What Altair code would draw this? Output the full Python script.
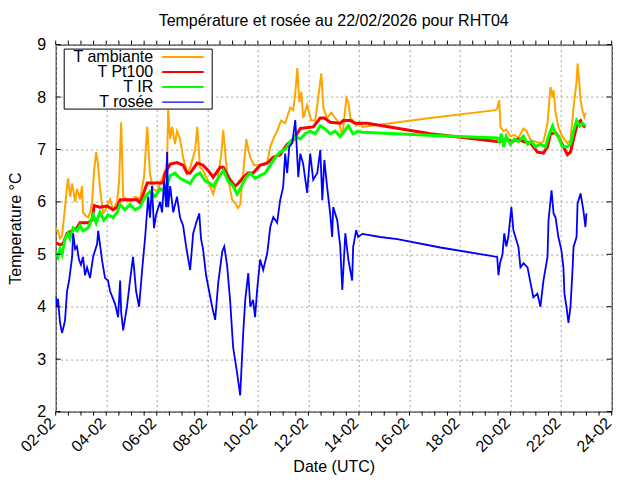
import altair as alt
import pandas as pd

FONT = "Liberation Sans"

# x axis: days since 02-02-2026 00:00 UTC
tick_days = [0, 2, 4, 6, 8, 10, 12, 14, 16, 18, 20, 22]
tick_labels = ["02-02", "04-02", "06-02", "08-02", "10-02", "12-02",
               "14-02", "16-02", "18-02", "20-02", "22-02", "24-02"]
minor_days = [i * 0.5 for i in range(45)]
y_ticks = [2, 3, 4, 5, 6, 7, 8, 9]

series_names = ["T ambiante", "T Pt100", "T IR", "T rosée"]
series_colors = ["#ffa500", "#ff0000", "#00ff00", "#0000ff"]

amb_t = [0.0, 0.09, 0.17, 0.25, 0.37, 0.45, 0.49, 0.57, 0.65, 0.77, 0.84, 0.96, 1.04, 1.08, 1.16, 1.28,
         1.36, 1.44, 1.52, 1.60, 1.68, 1.75, 1.87, 2.03, 2.15, 2.27, 2.43, 2.51, 2.59, 2.67, 2.82, 2.94,
         3.14, 3.34, 3.50, 3.62, 3.73, 3.85, 4.01, 4.13, 4.33, 4.41, 4.45, 4.53, 4.61, 4.72, 4.80, 4.92,
         5.04, 5.20, 5.32, 5.52, 5.60, 5.71, 5.83, 6.03, 6.23, 6.39, 6.55, 6.63, 6.78, 6.98, 7.14, 7.22,
         7.30, 7.42, 7.54, 7.62, 7.70, 7.85, 8.01, 8.21, 8.37, 8.49, 8.61, 8.76, 8.92, 9.08, 9.28, 9.40,
         9.48, 9.56, 9.64, 9.72, 9.79, 9.95, 10.11, 10.27, 10.39, 10.51, 10.59, 10.74, 10.90, 11.06, 11.22,
         11.34, 11.42, 11.50, 11.58, 11.66, 11.77, 11.89, 12.05, 12.13, 14.82, 17.40, 17.47, 17.55, 17.60,
         17.72, 17.83, 17.99, 18.15, 18.31, 18.51, 18.63, 18.79, 18.98, 19.18, 19.30, 19.46, 19.58, 19.66,
         19.70, 19.78, 19.89, 20.05, 20.25, 20.37, 20.49, 20.61, 20.65, 20.69, 20.77, 20.84, 20.92, 20.96]
amb_v = [5.5, 5.45, 5.3, 5.35, 5.9, 6.3, 6.45, 6.1, 6.35, 6.0, 6.25, 6.05, 6.3, 5.8, 5.75, 5.7,
         5.8, 6.0, 6.6, 6.95, 6.7, 6.28, 5.78, 5.9, 6.05, 5.85, 6.0, 6.4, 7.52, 6.1, 6.05, 6.0,
         6.1, 6.05, 6.5, 7.43, 6.55, 6.25, 6.2, 6.35, 6.6, 6.8, 7.75, 7.2, 7.43, 7.1, 7.35, 7.2,
         6.85, 6.55, 6.65, 7.0, 7.43, 6.66, 6.6, 6.4, 6.15, 6.4, 6.9, 7.37, 6.55, 6.05, 5.95, 5.88,
         5.95, 6.55, 7.2, 7.0, 6.85, 6.7, 6.7, 6.7, 6.75, 7.05, 7.2, 7.35, 7.55, 7.5, 7.8, 7.75,
         8.07, 8.55, 7.9, 8.1, 7.6, 7.85, 7.55, 7.55, 8.0, 8.45, 7.8, 7.6, 7.7, 7.6, 7.5,
         7.25, 7.6, 7.98, 7.9, 7.6, 7.55, 7.45, 7.5, 7.43, 7.6, 7.75, 7.78, 7.94, 7.43,
         7.35, 7.38, 7.25, 7.28, 7.22, 7.4, 7.35, 7.18, 7.15, 7.12, 7.15, 7.5, 8.19, 8.0,
         8.13, 7.7, 7.43, 7.24, 7.12, 7.18, 7.8, 8.3, 8.64, 8.45, 7.94, 7.75, 7.62, 7.7]

pt_t = [0.0, 0.17, 0.29, 0.45, 0.65, 0.84, 0.96, 1.28, 1.44, 1.52, 1.75, 2.03, 2.27, 2.43, 2.55, 2.94,
        3.22, 3.34, 3.62, 3.93, 4.25, 4.33, 4.53, 4.80, 5.04, 5.20, 5.32, 5.60, 5.83, 6.03, 6.23, 6.51,
        6.63, 6.90, 7.10, 7.22, 7.42, 7.62, 7.81, 8.09, 8.37, 8.61, 8.88, 9.16, 9.40, 9.68, 10.19, 10.47,
        10.63, 10.86, 11.26, 11.38, 11.66, 11.85, 12.33, 14.82, 17.47, 17.60, 17.83, 18.07, 18.31, 18.51,
        18.79, 19.06, 19.30, 19.46, 19.58, 19.78, 19.89, 20.09, 20.25, 20.37, 20.49, 20.65, 20.77, 20.88, 20.96]
pt_v = [5.22, 5.18, 5.2, 5.4, 5.45, 5.5, 5.6, 5.6, 5.65, 5.93, 5.9, 5.92, 5.85, 5.9, 6.04, 6.04,
        6.04, 5.98, 6.36, 6.36, 6.36, 6.55, 6.72, 6.75, 6.7, 6.55, 6.55, 6.74, 6.7, 6.6, 6.47, 6.66,
        6.66, 6.42, 6.3, 6.35, 6.47, 6.55, 6.55, 6.7, 6.74, 6.85, 6.9, 7.1, 7.18, 7.4, 7.43, 7.6,
        7.6, 7.52, 7.5, 7.55, 7.55, 7.5, 7.5, 7.3, 7.15, 7.15, 7.2, 7.15, 7.2, 7.15,
        7.12, 6.95, 6.93, 7.05, 7.3, 7.32, 7.25, 7.05, 6.9, 6.95, 7.2, 7.5, 7.55, 7.45, 7.42]

ir_t = [0.0, 0.09, 0.17, 0.25, 0.37, 0.49, 0.57, 0.69, 0.84, 0.96, 1.08, 1.28, 1.36, 1.48, 1.60, 1.75,
        1.91, 2.07, 2.27, 2.43, 2.55, 2.74, 2.94, 3.14, 3.34, 3.54, 3.73, 3.93, 4.13, 4.33, 4.53, 4.72,
        4.92, 5.12, 5.32, 5.52, 5.71, 5.91, 6.11, 6.23, 6.43, 6.63, 6.82, 7.02, 7.18, 7.30, 7.50, 7.70,
        7.89, 8.09, 8.29, 8.49, 8.69, 8.88, 9.08, 9.28, 9.48, 9.68, 9.87, 10.07, 10.27, 10.47, 10.63,
        10.86, 11.06, 11.26, 11.42, 11.58, 11.77, 11.97, 12.13, 15.22, 17.47, 17.55, 17.64, 17.72, 17.83,
        17.99, 18.15, 18.31, 18.51, 18.67, 18.83, 18.98, 19.18, 19.38, 19.50, 19.66, 19.78, 19.89, 20.05,
        20.25, 20.37, 20.49, 20.61, 20.73, 20.84, 20.96]
ir_v = [5.05, 4.95, 5.1, 5.0, 5.3, 5.4, 5.3, 5.5, 5.45, 5.55, 5.45, 5.5, 5.6, 5.75, 5.6, 5.8,
        5.65, 5.75, 5.7, 5.8, 5.95, 5.85, 5.95, 5.85, 5.9, 6.1, 6.2, 6.1, 6.25, 6.2, 6.5, 6.55,
        6.45, 6.4, 6.35, 6.5, 6.55, 6.4, 6.35, 6.3, 6.45, 6.6, 6.4, 6.3, 6.15, 6.25, 6.45, 6.55,
        6.45, 6.5, 6.55, 6.7, 6.85, 6.95, 7.0, 7.15, 7.25, 7.2, 7.3, 7.35, 7.3, 7.45, 7.4,
        7.3, 7.35, 7.25, 7.35, 7.45, 7.3, 7.35, 7.33, 7.26, 7.22, 7.15, 7.3, 7.05, 7.25,
        7.1, 7.2, 7.15, 7.25, 7.1, 7.15, 7.05, 7.1, 7.05, 7.25, 7.45, 7.3, 7.25, 7.05,
        7.05, 7.1, 7.35, 7.55, 7.45, 7.5, 7.45]

ros_t = [0.0, 0.04, 0.09, 0.17, 0.25, 0.33, 0.37, 0.45, 0.53, 0.65, 0.69, 0.77, 0.84, 0.92, 1.00, 1.08,
         1.16, 1.24, 1.36, 1.48, 1.64, 1.68, 1.75, 1.83, 1.95, 2.07, 2.15, 2.27, 2.35, 2.47, 2.55, 2.59,
         2.67, 2.82, 2.94, 3.06, 3.18, 3.30, 3.42, 3.54, 3.66, 3.73, 3.81, 3.89, 3.97, 4.13, 4.21, 4.29,
         4.37, 4.41, 4.45, 4.53, 4.65, 4.80, 4.92, 5.04, 5.16, 5.32, 5.44, 5.56, 5.68, 5.75, 5.83, 5.95,
         6.07, 6.19, 6.31, 6.43, 6.59, 6.67, 6.78, 6.90, 7.02, 7.18, 7.30, 7.42, 7.50, 7.62, 7.70, 7.81,
         7.89, 7.97, 8.09, 8.21, 8.37, 8.49, 8.61, 8.76, 8.88, 9.00, 9.08, 9.16, 9.24, 9.36, 9.48, 9.60,
         9.68, 9.79, 9.95, 10.07, 10.19, 10.35, 10.47, 10.55, 10.63, 10.74, 10.86, 10.94, 10.98, 11.14,
         11.26, 11.34, 11.46, 11.58, 11.73, 11.77, 11.89, 11.97, 12.13, 12.84, 13.52, 15.22, 17.47, 17.52,
         17.58, 17.68, 17.75, 17.83, 17.91, 17.99, 18.03, 18.11, 18.19, 18.31, 18.39, 18.51, 18.67, 18.79,
         18.90, 19.06, 19.18, 19.30, 19.46, 19.50, 19.62, 19.70, 19.78, 19.89, 20.01, 20.09, 20.13, 20.21,
         20.29, 20.37, 20.45, 20.49, 20.61, 20.65, 20.77, 20.88, 20.96, 21.00]
ros_v = [4.2, 4.0, 4.15, 3.7, 3.5, 3.65, 3.75, 4.3, 4.5, 4.95, 5.4, 5.1, 5.15, 4.9, 4.8, 4.95,
         4.6, 4.75, 4.55, 4.95, 5.2, 5.45, 5.2, 4.9, 4.55, 4.5, 4.3, 4.15, 4.05, 3.8, 4.5, 3.9,
         3.55, 4.0, 4.5, 4.95, 4.3, 4.0, 4.7, 5.33, 6.1, 5.7, 6.3, 5.5, 5.75, 6.0, 5.8, 6.4,
         5.9, 6.95, 5.9, 6.3, 5.8, 6.1, 5.7, 5.55, 5.15, 4.7, 5.4, 5.6, 5.78, 5.3, 5.1, 4.6,
         4.3, 4.0, 3.75, 4.45, 5.05, 5.15, 4.8, 4.13, 3.23, 2.73, 2.31, 3.5, 4.13, 4.64, 4.0, 4.13,
         3.8, 4.32, 4.9, 4.7, 5.02, 5.52, 5.71, 5.6, 6.03, 6.28, 6.92, 6.55, 7.05, 7.12, 7.56, 6.47,
         6.92, 6.73, 6.17, 6.92, 6.42, 6.55, 6.99, 6.03, 6.8, 6.28, 5.78, 5.33, 5.9, 5.65,
         5.14, 4.32, 5.4, 4.9, 4.5, 5.14, 5.46, 5.33, 5.39, 5.33, 5.29, 5.13, 4.95, 4.6,
         4.83, 5.0, 5.4, 5.15, 5.33, 5.71, 5.9, 5.46, 5.33, 5.14, 4.75, 4.83, 4.75, 4.45,
         4.18, 4.25, 4.0, 4.5, 4.95, 5.65, 6.22, 5.78, 5.7, 5.33, 5.08, 4.75, 4.25, 4.0,
         3.69, 4.0, 4.7, 5.14, 5.33, 5.97, 6.16, 5.84, 5.52, 5.78]

series_data = [(amb_t, amb_v), (pt_t, pt_v), (ir_t, ir_v), (ros_t, ros_v)]
series_widths = [2, 3, 3, 1.8]

W, H = 556, 367

label_expr = "[" + ",".join("'%s'" % s for s in tick_labels) + "][round(datum.value/2)]"

X = alt.X("t:Q",
          scale=alt.Scale(domain=[0, 22], nice=False, zero=False),
          axis=alt.Axis(values=tick_days, labelExpr=label_expr, grid=True, ticks=False, tickSize=0,
                        labelAngle=-45, labelAlign="right", labelBaseline="alphabetic", labelPadding=12,
                        labelOverlap=False, labelFlush=False, labelBound=False,
                        title="Date (UTC)", titleY=60, titleBaseline="alphabetic"))
Y = alt.Y("v:Q",
          scale=alt.Scale(domain=[2, 9], nice=False, zero=False),
          axis=alt.Axis(values=y_ticks, grid=True, ticks=False, tickSize=0, labelPadding=10,
                        title="Temperature °C", titleX=-35.5, titleBaseline="alphabetic"))

layers = []
for (tt, vv), col, w in zip(series_data, series_colors, series_widths):
    df = pd.DataFrame({"t": tt, "v": vv})
    layers.append(alt.Chart(df).mark_line(color=col, strokeWidth=w, clip=True).encode(x=X, y=Y))

# ticks: x outward (bottom & top), y inward (left & right)
minor_df = pd.DataFrame({"t": minor_days})
layers.append(alt.Chart(minor_df).mark_rule(color="black", strokeWidth=1).encode(
    x=X, y=alt.value(H), y2=alt.value(H + 4)))
layers.append(alt.Chart(minor_df).mark_rule(color="black", strokeWidth=1).encode(
    x=X, y=alt.value(-4), y2=alt.value(0)))
ytick_df = pd.DataFrame({"v": y_ticks})
layers.append(alt.Chart(ytick_df).mark_rule(color="black", strokeWidth=1).encode(
    y=Y, x=alt.value(0), x2=alt.value(5)))
layers.append(alt.Chart(ytick_df).mark_rule(color="black", strokeWidth=1).encode(
    y=Y, x=alt.value(W - 5), x2=alt.value(W)))

# key box (gnuplot style: label then line sample)
one = pd.DataFrame({"a": [0]})
layers.append(alt.Chart(one).mark_rect(fill="white", stroke="black", strokeWidth=1).encode(
    x=alt.value(8.5), x2=alt.value(156.5), y=alt.value(4.5), y2=alt.value(64.5)))
row_y = [12, 27, 42, 57]
key_w = [2, 2, 2, 1.2]
for name, col, ry, kw in zip(series_names, series_colors, row_y, key_w):
    layers.append(alt.Chart(pd.DataFrame({"label": [name]})).mark_text(
        align="right", baseline="middle", font=FONT, fontSize=16, color="black").encode(
        x=alt.value(97.5), y=alt.value(ry), text="label:N"))
    layers.append(alt.Chart(one).mark_rule(color=col, strokeWidth=kw).encode(
        x=alt.value(106.5), x2=alt.value(148), y=alt.value(ry + 0.5)))

chart = alt.layer(*layers).properties(
    width=W, height=H,
    title=alt.TitleParams("Température et rosée au 22/02/2026 pour RHT04", font=FONT, fontSize=16,
                          fontWeight="normal", color="black", anchor="middle", frame="group",
                          baseline="top", offset=8),
    autosize=alt.AutoSizeParams(type="none"),
    padding={"left": 47.7, "top": 36.6, "right": 20, "bottom": 66},
).configure_view(stroke="black", strokeWidth=1).configure_axis(
    domain=False, labelFont=FONT, titleFont=FONT, labelFontSize=16, titleFontSize=16,
    labelColor="black", titleColor="black", titleFontWeight="normal",
    gridColor="#a0a0a0", gridDash=[2, 3], gridWidth=1, gridOpacity=1)

chart.save("out.html", embed_options={"renderer": "svg", "actions": False})
